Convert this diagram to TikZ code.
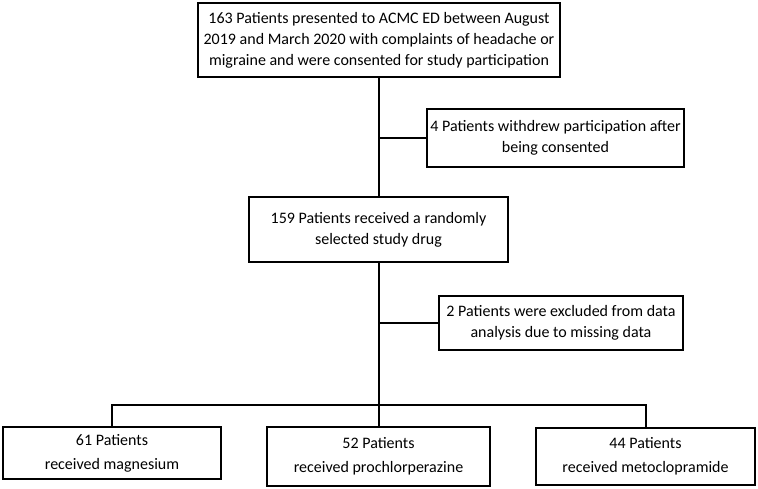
\documentclass[tikz,border=0pt]{standalone}
\usepackage{fontspec}
\setmainfont{Carlito}
\begin{document}
\begin{tikzpicture}[x=1pt,y=-1pt,
  box/.style={draw, line width=2pt, align=center, inner sep=0pt, font=\fontsize{16}{21}\selectfont},
  bbox/.style={box, font=\fontsize{16}{24}\selectfont},
  conn/.style={line width=2pt}]
\useasboundingbox (0,0) rectangle (758,488);
\node[box, minimum width=362pt, minimum height=74pt] (top) at (379,40)
  {163 Patients presented to ACMC ED between August\\2019 and March 2020 with complaints of headache or\\migraine and were consented for study participation};
\node[box, minimum width=257pt, minimum height=58pt] (wd) at (555.5,138)
  {4 Patients withdrew participation after\\being consented};
\node[box, minimum width=259pt, minimum height=65pt] (drug) at (378.5,229.5)
  {159 Patients received a randomly\\selected study drug};
\node[box, minimum width=244pt, minimum height=54pt] (ex) at (561,323)
  {2 Patients were excluded from data\\analysis due to missing data};
\node[bbox, minimum width=218pt, minimum height=52pt] (mg) at (112,453)
  {61 Patients\\received magnesium};
\node[bbox, minimum width=223pt, minimum height=59pt] (pc) at (378.5,456.5)
  {52 Patients\\received prochlorperazine};
\node[bbox, minimum width=219pt, minimum height=57pt] (mc) at (645.5,456.5)
  {44 Patients\\received metoclopramide};
\coordinate (j1) at (379,138);
\coordinate (j2) at (379,323);
\coordinate (bus) at (379,405);
\draw[conn] (top.south -| j1) -- (drug.north -| j1);
\draw[conn] (j1) -- (wd.west);
\draw[conn] (drug.south -| bus) -- (pc.north -| bus);
\draw[conn] (j2) -- (ex.west);
\draw[conn] (mg.north) |- (bus) -| (mc.north);
\end{tikzpicture}
\end{document}
